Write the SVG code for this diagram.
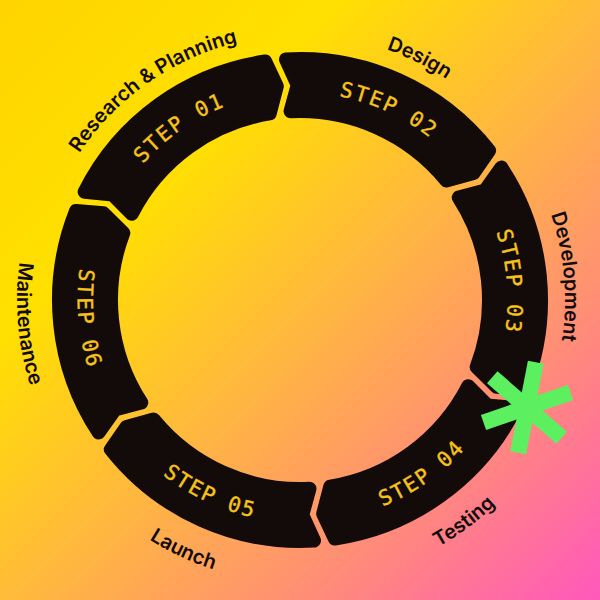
<svg xmlns="http://www.w3.org/2000/svg" width="600" height="600" viewBox="0 0 600 600">
<defs>
<linearGradient id="bg" x1="0" y1="0" x2="600" y2="600" gradientUnits="userSpaceOnUse">
<stop offset="0" stop-color="#FFD400"/>
<stop offset="0.28" stop-color="#FFE000"/>
<stop offset="0.52" stop-color="#FFB83E"/>
<stop offset="0.76" stop-color="#FF8C78"/>
<stop offset="1" stop-color="#FF58BC"/>
</linearGradient>
<path id="seg" d="M185.61 87.88 A241 241 0 0 1 408.26 84.68 L403.62 111.62 L382.22 129.82 A189 189 0 0 0 211.63 132.93 L207.05 106.13 Z"/>
<path id="tS" d="M120.13 196.15 A207.7 207.7 0 0 1 479.87 196.15"/>
<path id="bS" d="M107.48 411.15 A222.3 222.3 0 0 0 492.52 411.15"/>
<path id="tL" d="M70.5 167.5 A265 265 0 0 1 529.5 167.5"/>
<path id="bL" d="M54.91 441.5 A283 283 0 0 0 545.09 441.5"/>
</defs>
<style>
.seg{fill:#130b09;stroke:#130b09;stroke-width:14;stroke-linejoin:round}
.step{font-family:"DejaVu Sans Mono","Liberation Mono",monospace;font-size:21px;fill:#F7C31A;letter-spacing:2px;stroke:#F7C31A;stroke-width:0.4px}
.lbl{font-family:Inter,"Noto Sans",sans-serif;font-size:20px;font-weight:600;fill:#130b09}
</style>
<rect width="600" height="600" fill="url(#bg)"/>
<g id="connectors"/>
<g id="step01">
<use href="#seg" class="seg" transform="rotate(-35 300 300)"/>
<text class="step" transform="rotate(-35 300 300)"><textPath href="#tS" startOffset="50%" text-anchor="middle">STEP 01</textPath></text>
<text class="lbl" transform="rotate(-35 300 300)"><textPath href="#tL" startOffset="50%" text-anchor="middle">Research &amp; Planning</textPath></text>
</g>
<g id="step02">
<use href="#seg" class="seg" transform="rotate(25 300 300)"/>
<text class="step" transform="rotate(25 300 300)"><textPath href="#tS" startOffset="50%" text-anchor="middle">STEP 02</textPath></text>
<text class="lbl" transform="rotate(26.3 300 300)"><textPath href="#tL" startOffset="50%" text-anchor="middle">Design</textPath></text>
</g>
<g id="step03">
<use href="#seg" class="seg" transform="rotate(85 300 300)"/>
<text class="step" transform="rotate(85 300 300)"><textPath href="#tS" startOffset="50%" text-anchor="middle">STEP 03</textPath></text>
<text class="lbl" transform="rotate(85 300 300)"><textPath href="#tL" startOffset="50%" text-anchor="middle">Development</textPath></text>
</g>
<g id="step04">
<use href="#seg" class="seg" transform="rotate(145 300 300)"/>
<text class="step" transform="rotate(-35 300 300)"><textPath href="#bS" startOffset="50%" text-anchor="middle">STEP 04</textPath></text>
<text class="lbl" transform="rotate(-36.5 300 300)"><textPath href="#bL" startOffset="50%" text-anchor="middle">Testing</textPath></text>
</g>
<g id="step05">
<use href="#seg" class="seg" transform="rotate(205 300 300)"/>
<text class="step" transform="rotate(25 300 300)"><textPath href="#bS" startOffset="50%" text-anchor="middle">STEP 05</textPath></text>
<text class="lbl" transform="rotate(25 300 300)"><textPath href="#bL" startOffset="50%" text-anchor="middle">Launch</textPath></text>
</g>
<g id="step06">
<use href="#seg" class="seg" transform="rotate(265 300 300)"/>
<text class="step" transform="rotate(85 300 300)"><textPath href="#bS" startOffset="50%" text-anchor="middle">STEP 06</textPath></text>
<text class="lbl" transform="rotate(85 300 300)"><textPath href="#bL" startOffset="50%" text-anchor="middle">Maintenance</textPath></text>
</g>
<g id="asterisk" transform="translate(527 407.5)" fill="#5CF060">
<rect x="-46" y="-8" width="92" height="16" transform="rotate(41)"/>
<rect x="-46" y="-8" width="92" height="16" transform="rotate(101)"/>
<rect x="-46" y="-8" width="92" height="16" transform="rotate(161)"/>
</g>
</svg>
